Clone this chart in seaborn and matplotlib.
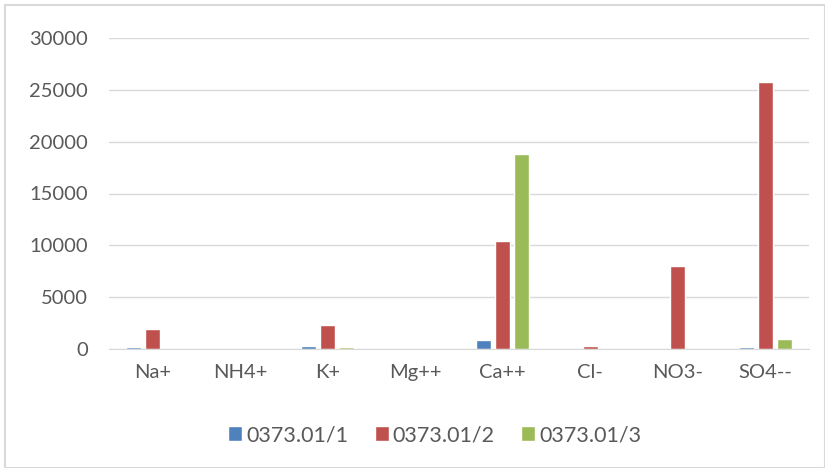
import pandas as pd
import seaborn as sns
import matplotlib.pyplot as plt
from matplotlib.patches import Rectangle

# ---------------------------------------------------------
# Daten
# ---------------------------------------------------------
ions = ["Na+", "NH4+", "K+", "Mg++", "Ca++", "Cl-", "NO3-", "SO4--"]
probe_1 = [170, 0, 320, 0, 820, 0, 0, 170]
probe_2 = [1930, 0, 2300, 0, 10400, 320, 8000, 25800]
probe_3 = [0, 0, 170, 0, 18800, 0, 0, 930]
series_names = ["0373.01/1", "0373.01/2", "0373.01/3"]
colors = ["#4F81BD", "#C0504D", "#9BBB59"]

df = pd.DataFrame({
    "ion": ions * 3,
    "wert": probe_1 + probe_2 + probe_3,
    "probe": [series_names[0]] * 8 + [series_names[1]] * 8 + [series_names[2]] * 8,
})

# ---------------------------------------------------------
# Plot
# ---------------------------------------------------------
sns.set_style("white")
plt.rcParams["font.family"] = ["Lato", "DejaVu Sans"]

fig = plt.figure(figsize=(8.25, 4.68), dpi=100)
ax = fig.add_axes([109 / 825, 1 - 349 / 468, 700 / 825, 311 / 468])

sns.barplot(data=df, x="ion", y="wert", hue="probe", palette=colors,
            width=0.65, gap=0.2, ax=ax, saturation=1, legend=True)

ax.set_ylim(0, 30000)
ax.set_yticks(range(0, 30001, 5000))
ax.yaxis.grid(True, color="#d9d9d9", linewidth=1)
ax.set_axisbelow(True)
for s in ["top", "right", "left"]:
    ax.spines[s].set_visible(False)
ax.spines["bottom"].set_color("#d9d9d9")
ax.tick_params(axis="both", length=0, labelsize=14.5, colors="#595959")
ax.tick_params(axis="y", pad=15)
ax.tick_params(axis="x", pad=11)
ax.set_xlabel("")
ax.set_ylabel("")

handles, labels = ax.get_legend_handles_labels()
ax.get_legend().remove()
fig.legend(handles, labels, loc="center", bbox_to_anchor=(0.527, 0.07),
           ncol=3, frameon=False, fontsize=15.5, handlelength=0.65,
           handleheight=0.65, handletextpad=0.2, columnspacing=1.2,
           labelcolor="#595959")

# Rahmen um das Diagramm
fig.patches.append(Rectangle((5 / 825, 0), 1 - 5 / 825, 1 - 5 / 468,
                             transform=fig.transFigure, fill=False,
                             edgecolor="#d9d9d9", linewidth=1.5))

fig.savefig("out.png", dpi=100)
